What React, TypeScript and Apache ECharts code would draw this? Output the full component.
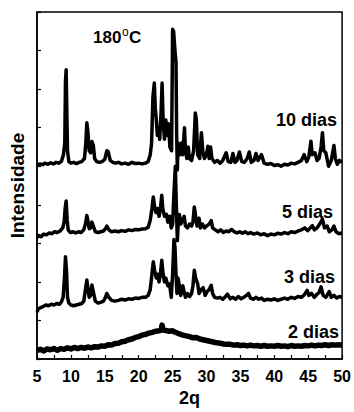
import React, { useEffect, useRef } from "react";
import * as echarts from "echarts";

// 2θ (degrees) vs. intensity (stacked, arbitrary units)
const dias10: [number, number][] = [
  [5.0,5.02],[5.4,5.06],[5.8,5.04],[6.2,5.08],[6.6,5.05],[7.0,5.09],[7.4,5.06],[7.8,5.1],[8.2,5.08],[8.6,5.12],
  [8.9,5.3],[9.1,5.6],[9.2,7.2],[9.3,7.5],[9.4,6.4],[9.5,5.4],[9.7,5.12],[10.0,5.08],[10.4,5.1],[10.8,5.07],
  [11.2,5.1],[11.6,5.12],[12.0,5.2],[12.2,5.6],[12.35,6.13],[12.5,5.9],[12.7,5.4],[12.9,5.35],[13.1,5.64],[13.3,5.55],
  [13.5,5.2],[13.8,5.12],[14.2,5.1],[14.6,5.12],[15.0,5.18],[15.3,5.4],[15.5,5.38],[15.8,5.15],[16.2,5.1],[16.6,5.08],
  [17.0,5.1],[17.5,5.06],[18.0,5.08],[18.5,5.05],[19.0,5.1],[19.5,5.07],[20.0,5.08],[20.5,5.06],[21.0,5.08],[21.4,5.12],
  [21.7,5.3],[21.9,5.6],[22.1,6.8],[22.3,7.16],[22.45,6.5],[22.6,6.2],[22.75,5.8],[22.9,6.0],[23.1,5.7],[23.3,6.4],
  [23.45,7.16],[23.6,6.2],[23.8,5.7],[24.0,6.2],[24.2,5.8],[24.4,6.1],[24.6,5.5],[24.85,5.4],[25.0,8.55],[25.15,8.5],
  [25.35,8.0],[25.5,7.7],[25.6,5.8],[25.7,4.9],[25.8,5.6],[25.95,5.5],[26.1,5.3],[26.3,5.6],[26.5,5.3],[26.75,6.0],
  [26.9,5.4],[27.1,5.2],[27.3,5.5],[27.5,5.2],[27.8,5.15],[28.1,5.4],[28.35,6.38],[28.5,6.2],[28.7,5.3],[29.0,5.2],
  [29.25,5.87],[29.45,5.4],[29.7,5.2],[30.0,5.3],[30.2,5.52],[30.4,5.2],[30.6,5.5],[30.8,5.2],[31.2,5.1],[31.6,5.15],
  [32.0,5.08],[32.4,5.15],[32.9,5.35],[33.2,5.12],[33.6,5.1],[33.9,5.33],[34.2,5.1],[34.5,5.15],[34.85,5.37],[35.2,5.12],
  [35.6,5.1],[36.0,5.2],[36.3,5.37],[36.6,5.1],[37.0,5.15],[37.3,5.33],[37.6,5.15],[38.1,5.3],[38.5,5.08],[39.0,5.05],
  [39.5,5.07],[40.0,5.02],[40.5,5.04],[41.0,5.0],[41.5,5.05],[42.0,5.03],[42.5,5.08],[43.0,5.06],[43.5,5.1],[44.0,5.15],
  [44.4,5.3],[44.8,5.12],[45.1,5.25],[45.4,5.65],[45.6,5.3],[46.0,5.35],[46.3,5.15],[46.6,5.2],[46.9,5.5],[47.1,5.87],
  [47.3,5.4],[47.6,5.35],[48.0,5.0],[48.4,5.15],[48.8,5.54],[49.0,5.2],[49.3,5.05],[49.6,5.15],[50.0,5.1]
];

const dias5: [number, number][] = [
  [5.0,3.15],[5.3,3.2],[5.6,3.17],[6.0,3.24],[6.4,3.22],[6.8,3.27],[7.2,3.25],[7.6,3.3],[8.0,3.28],[8.4,3.32],
  [8.8,3.4],[9.0,3.55],[9.15,3.9],[9.3,4.1],[9.45,3.6],[9.6,3.35],[9.9,3.28],[10.3,3.3],[10.7,3.27],[11.1,3.3],
  [11.5,3.28],[11.9,3.35],[12.15,3.5],[12.35,3.72],[12.5,3.6],[12.7,3.38],[12.9,3.4],[13.1,3.55],[13.3,3.45],[13.6,3.3],
  [14.0,3.28],[14.4,3.3],[14.8,3.32],[15.1,3.38],[15.3,3.45],[15.6,3.35],[16.0,3.3],[16.5,3.32],[17.0,3.3],[17.5,3.33],
  [18.0,3.31],[18.5,3.35],[19.0,3.33],[19.5,3.36],[20.0,3.35],[20.5,3.37],[21.0,3.38],[21.4,3.42],[21.7,3.6],[21.95,3.9],
  [22.15,4.2],[22.35,3.95],[22.55,3.8],[22.8,3.9],[23.0,3.7],[23.2,3.9],[23.4,4.25],[23.55,3.9],[23.8,3.7],[24.1,3.75],
  [24.3,3.55],[24.6,3.7],[24.8,3.4],[25.0,3.5],[25.2,4.3],[25.4,5.0],[25.55,4.0],[25.7,3.07],[25.85,3.6],[26.0,3.75],
  [26.2,3.5],[26.45,3.6],[26.7,3.7],[26.9,3.45],[27.2,3.4],[27.5,3.5],[27.8,3.45],[28.0,3.55],[28.2,3.94],[28.4,3.7],
  [28.6,3.45],[28.9,3.65],[29.1,3.4],[29.4,3.5],[29.7,3.4],[30.0,3.45],[30.4,3.5],[30.7,3.59],[30.9,3.4],[31.3,3.35],
  [31.7,3.3],[32.1,3.35],[32.5,3.28],[32.9,3.32],[33.3,3.3],[33.7,3.36],[34.1,3.3],[34.5,3.27],[34.9,3.3],[35.3,3.26],
  [35.7,3.3],[36.1,3.25],[36.5,3.28],[37.0,3.24],[37.5,3.27],[38.0,3.22],[38.5,3.25],[39.0,3.2],[39.5,3.24],[40.0,3.22],
  [40.5,3.26],[41.0,3.24],[41.5,3.28],[42.0,3.25],[42.5,3.3],[43.0,3.28],[43.5,3.32],[44.0,3.35],[44.5,3.4],[44.9,3.33],
  [45.2,3.38],[45.6,3.46],[45.9,3.35],[46.3,3.4],[46.7,3.5],[47.1,3.63],[47.4,3.4],[47.8,3.45],[48.1,3.3],[48.5,3.35],
  [48.8,3.45],[49.1,3.3],[49.5,3.25],[50.0,3.27]
];

const dias3: [number, number][] = [
  [5.0,1.22],[5.2,1.3],[5.5,1.33],[5.9,1.36],[6.3,1.4],[6.7,1.38],[7.1,1.42],[7.5,1.4],[7.9,1.44],[8.3,1.42],
  [8.6,1.48],[8.85,1.6],[9.05,2.1],[9.2,2.65],[9.35,2.3],[9.5,1.6],[9.7,1.45],[10.0,1.4],[10.4,1.38],[10.8,1.4],
  [11.2,1.42],[11.6,1.44],[11.9,1.5],[12.15,1.8],[12.35,2.05],[12.5,1.85],[12.7,1.6],[12.9,1.65],[13.1,1.92],[13.3,1.75],
  [13.6,1.5],[14.0,1.45],[14.4,1.47],[14.8,1.5],[15.1,1.6],[15.3,1.7],[15.6,1.6],[16.0,1.52],[16.5,1.5],[17.0,1.52],
  [17.5,1.55],[18.0,1.53],[18.5,1.56],[19.0,1.55],[19.5,1.58],[20.0,1.57],[20.5,1.6],[21.0,1.6],[21.4,1.65],[21.7,1.8],
  [21.95,2.2],[22.15,2.52],[22.35,2.3],[22.6,2.1],[22.8,2.2],[23.0,2.0],[23.2,2.2],[23.4,2.56],[23.6,2.2],[23.8,2.0],
  [24.0,2.1],[24.3,1.9],[24.55,1.95],[24.8,1.6],[25.0,2.2],[25.2,3.1],[25.35,2.9],[25.5,2.2],[25.65,1.7],[25.8,2.1],
  [26.0,1.9],[26.2,1.65],[26.5,1.9],[26.7,1.75],[26.9,1.6],[27.2,1.7],[27.5,1.62],[27.8,1.7],[28.0,1.9],[28.2,2.3],
  [28.4,2.1],[28.7,1.95],[28.9,1.7],[29.2,1.8],[29.5,1.85],[29.8,1.65],[30.1,1.75],[30.4,1.8],[30.7,1.91],[30.9,1.7],
  [31.2,1.6],[31.6,1.58],[32.0,1.6],[32.4,1.55],[32.8,1.62],[33.1,1.68],[33.5,1.56],[33.9,1.6],[34.3,1.55],[34.7,1.62],
  [35.1,1.56],[35.5,1.6],[35.9,1.65],[36.2,1.7],[36.5,1.58],[36.9,1.55],[37.3,1.6],[37.7,1.55],[38.1,1.58],[38.5,1.52],
  [39.0,1.55],[39.5,1.53],[40.0,1.56],[40.5,1.52],[41.0,1.55],[41.5,1.58],[42.0,1.55],[42.5,1.6],[43.0,1.57],[43.5,1.62],
  [44.0,1.6],[44.4,1.66],[44.85,1.78],[45.1,1.65],[45.5,1.7],[45.9,1.6],[46.3,1.68],[46.6,1.72],[46.9,1.87],[47.2,1.65],
  [47.6,1.6],[48.1,1.75],[48.4,1.6],[48.8,1.65],[49.2,1.58],[49.6,1.62],[50.0,1.6]
];

const dias2: [number, number][] = [
  [5.0,0.22],[5.5,0.25],[6.0,0.21],[6.5,0.26],[7.0,0.24],[7.5,0.27],[8.0,0.23],[8.5,0.27],[9.0,0.25],[9.5,0.29],
  [10.0,0.26],[10.5,0.3],[11.0,0.27],[11.5,0.3],[12.0,0.28],[12.5,0.31],[13.0,0.29],[13.5,0.32],[14.0,0.31],[14.5,0.34],
  [15.0,0.33],[15.5,0.37],[16.0,0.36],[16.5,0.4],[17.0,0.41],[17.5,0.45],[18.0,0.46],[18.5,0.5],[19.0,0.52],[19.5,0.56],
  [20.0,0.58],[20.5,0.62],[21.0,0.64],[21.5,0.67],[22.0,0.69],[22.5,0.72],[23.0,0.73],[23.3,0.75],[23.45,0.88],[23.6,0.75],
  [24.0,0.74],[24.5,0.72],[25.0,0.73],[25.3,0.7],[25.6,0.68],[26.0,0.65],[26.5,0.62],[27.0,0.6],[27.5,0.58],[28.0,0.55],
  [28.5,0.56],[29.0,0.52],[29.5,0.5],[30.0,0.48],[30.5,0.46],[31.0,0.44],[31.5,0.42],[32.0,0.41],[32.5,0.39],[33.0,0.38],
  [33.5,0.38],[34.0,0.36],[34.5,0.37],[35.0,0.35],[35.5,0.36],[36.0,0.34],[36.5,0.36],[37.0,0.34],[37.5,0.35],[38.0,0.33],
  [38.5,0.35],[39.0,0.33],[39.5,0.34],[40.0,0.33],[40.5,0.35],[41.0,0.33],[41.5,0.34],[42.0,0.32],[42.5,0.35],[43.0,0.33],
  [43.5,0.34],[44.0,0.33],[44.5,0.35],[45.0,0.34],[45.5,0.36],[46.0,0.34],[46.5,0.36],[47.0,0.35],[47.5,0.37],[48.0,0.35],
  [48.5,0.37],[49.0,0.36],[49.5,0.37],[50.0,0.36]
];

const seriesNames = ["10 dias", "5 dias", "3 dias", "2 dias"];
const temperature = "180";
const xName = "2q";
const yName = "Intensidade";

const FONT = "'Liberation Sans', Arial, Helvetica, sans-serif";

export default function App() {
  const ref = useRef<HTMLDivElement>(null);
  useEffect(() => {
    const chart = echarts.init(ref.current!, null, { renderer: "svg" });
    const mk = (name: string, data: [number, number][], w: number) => ({
      name,
      type: "line",
      data,
      showSymbol: false,
      symbol: "none",
      lineStyle: { color: "#000", width: w, join: "round" },
      itemStyle: { color: "#000" },
      z: 3,
    });
    const label = (text: string, x: number, y: number) => ({
      type: "text",
      x,
      y,
      style: {
        text,
        fill: "#000",
        font: `bold 18px ${FONT}`,
        align: "right",
        verticalAlign: "middle",
      },
      z: 10,
    });
    chart.setOption({
      animation: false,
      backgroundColor: "#fff",
      grid: {
        left: 37,
        right: 11,
        top: 12,
        bottom: 51,
        show: true,
        borderColor: "#000",
        borderWidth: 1.5,
        containLabel: false,
      },
      xAxis: {
        type: "value",
        min: 5,
        max: 50,
        interval: 5,
        name: xName,
        nameLocation: "middle",
        nameGap: 30,
        nameTextStyle: { color: "#000", fontFamily: FONT, fontWeight: "bold", fontSize: 18 },
        axisLine: { show: true, lineStyle: { color: "#000", width: 1.5 } },
        axisTick: { show: true, inside: true, length: 4, lineStyle: { color: "#000", width: 1.2 } },
        minorTick: { show: true, splitNumber: 2, length: 4, lineStyle: { color: "#000", width: 1.2 } },
        axisLabel: { color: "#000", fontFamily: FONT, fontWeight: "bold", fontSize: 16, margin: 9 },
        splitLine: { show: false },
      },
      yAxis: {
        type: "value",
        min: 0,
        max: 9,
        interval: 1,
        name: yName,
        nameLocation: "middle",
        nameRotate: 90,
        nameGap: 10,
        nameTextStyle: { color: "#000", fontFamily: FONT, fontWeight: "bold", fontSize: 19 },
        axisLine: { show: true, lineStyle: { color: "#000", width: 1.5 } },
        axisTick: { show: true, inside: true, length: 4, lineStyle: { color: "#000", width: 1.2 } },
        axisLabel: { show: false },
        splitLine: { show: false },
      },
      series: [
        mk(seriesNames[0], dias10, 3.5),
        mk(seriesNames[1], dias5, 3.5),
        mk(seriesNames[2], dias3, 3.5),
        mk(seriesNames[3], dias2, 5.5),
      ],
      graphic: [
        label(seriesNames[0], 337, 120),
        label(seriesNames[1], 333, 212),
        label(seriesNames[2], 335, 277),
        label(seriesNames[3], 339, 332),
        {
          type: "text",
          x: 93,
          y: 37,
          style: { text: temperature, fill: "#000", font: `bold 17px ${FONT}`, align: "left", verticalAlign: "middle" },
          z: 10,
        },
        {
          type: "text",
          x: 122,
          y: 32,
          style: { text: "o", fill: "#000", font: `12px ${FONT}`, align: "left", verticalAlign: "middle" },
          z: 10,
        },
        {
          type: "text",
          x: 129,
          y: 37,
          style: { text: "C", fill: "#000", font: `bold 17px ${FONT}`, align: "left", verticalAlign: "middle" },
          z: 10,
        },
      ],
    });
    return () => chart.dispose();
  }, []);
  return (
    <div
      ref={ref}
      style={{ position: "fixed", left: 0, top: 0, width: 354, height: 412, background: "#fff" }}
    />
  );
}
